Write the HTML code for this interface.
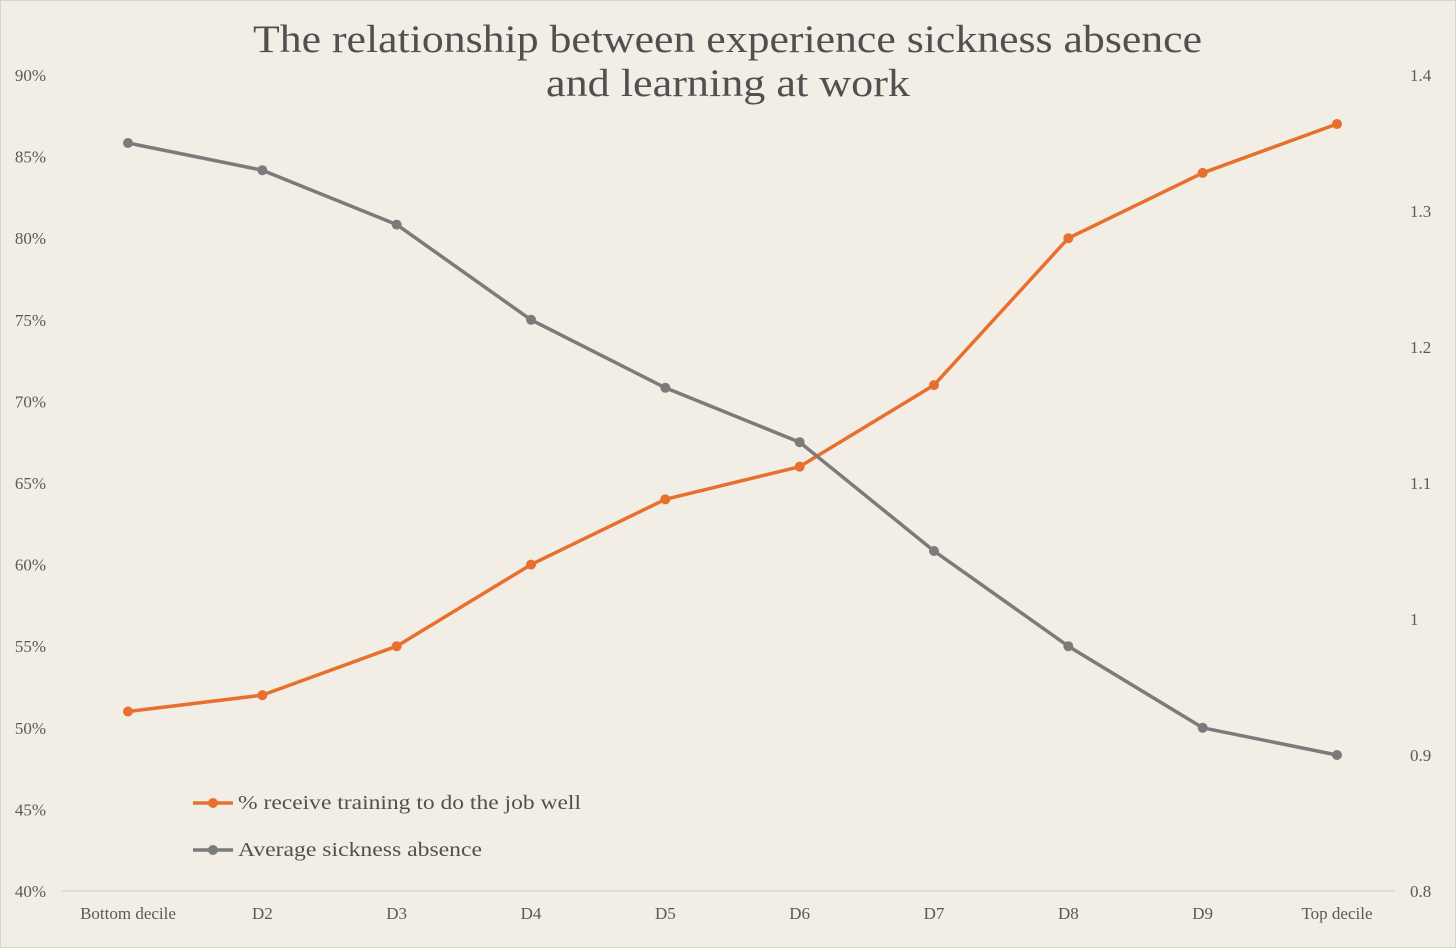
<!DOCTYPE html>
<html><head><meta charset="utf-8"><style>
html,body{margin:0;padding:0;background:#f2eee5;}
svg{display:block;font-family:"Liberation Serif",serif;}
</style></head><body>
<svg id="chart" width="1456" height="948">
<rect x="0.5" y="0.5" width="1455" height="947" fill="#f2eee5" stroke="#d8d4cc"/>
<text x="253" y="52" font-size="39" fill="#505050" textLength="949" lengthAdjust="spacingAndGlyphs">The relationship between experience sickness absence</text>
<text x="546" y="96" font-size="39" fill="#505050" textLength="364" lengthAdjust="spacingAndGlyphs">and learning at work</text>
<line x1="62" y1="891" x2="1395" y2="891" stroke="#d0ccc4" stroke-width="1"/>
<g id="leftTicks"></g><g id="rightTicks"></g><g id="xTicks"></g>
<g id="series"></g>
<g>
<line x1="193" y1="803" x2="233" y2="803" stroke="#e8702f" stroke-width="3.5"/>
<circle cx="213" cy="803" r="5" fill="#e8702f"/>
<text x="238" y="809" font-size="20" fill="#505050" textLength="343" lengthAdjust="spacingAndGlyphs">% receive training to do the job well</text>
<line x1="193" y1="850" x2="233" y2="850" stroke="#7b7b7b" stroke-width="3.5"/>
<circle cx="213" cy="850" r="5" fill="#7b7b7b"/>
<text x="238" y="856" font-size="20" fill="#505050" textLength="244" lengthAdjust="spacingAndGlyphs">Average sickness absence</text>
</g>
</svg>
<script>
const categories=["Bottom decile","D2","D3","D4","D5","D6","D7","D8","D9","Top decile"];
const trainingPct=[51,52,55,60,64,66,71,80,84,87];
const sicknessAvg=[1.35,1.33,1.29,1.22,1.17,1.13,1.05,0.98,0.92,0.90];
const leftTickLabels=["40%","45%","50%","55%","60%","65%","70%","75%","80%","85%","90%"];
const leftTickValues=[40,45,50,55,60,65,70,75,80,85,90];
const rightTickLabels=["0.8","0.9","1","1.1","1.2","1.3","1.4"];
const rightTickValues=[0.8,0.9,1.0,1.1,1.2,1.3,1.4];
const NS="http://www.w3.org/2000/svg";
const xPos=i=>128+i*(1337-128)/(categories.length-1);
const yL=v=>891-(v-40)/50*816;
const yR=v=>891-(v-0.8)/0.6*816;
function mk(tag,attrs,parent,txt){const e=document.createElementNS(NS,tag);for(const k in attrs)e.setAttribute(k,attrs[k]);if(txt!==undefined)e.textContent=txt;parent.appendChild(e);return e;}
const lt=document.getElementById('leftTicks');
leftTickValues.forEach((v,i)=>{const t=mk('text',{x:46,y:yL(v)+6,'text-anchor':'end','font-size':17,fill:'#595959'},lt,leftTickLabels[i]);

});
const rt=document.getElementById('rightTicks');
rightTickValues.forEach((v,i)=>{const t=mk('text',{x:1410,y:yR(v)+6,'font-size':17,fill:'#595959'},rt,rightTickLabels[i]);

});
const xt=document.getElementById('xTicks');
categories.forEach((c,i)=>{const t=mk('text',{x:xPos(i),y:919,'text-anchor':'middle','font-size':17,fill:'#595959'},xt,c);

});
const sg=document.getElementById('series');
function drawSeries(vals,yf,color,name){
const g=mk('g',{},sg);


const p=mk('polyline',{points:vals.map((v,i)=>xPos(i)+','+yf(v)).join(' '),fill:'none',stroke:color,'stroke-width':3.5,'stroke-linejoin':'round'},g);


vals.forEach((v,i)=>{const c=mk('circle',{cx:xPos(i),cy:yf(v),r:5,fill:color},g);

});
}
drawSeries(trainingPct,yL,'#e8702f','training-series');
drawSeries(sicknessAvg,yR,'#7b7b7b','sickness-series');
</script>
</body></html>
